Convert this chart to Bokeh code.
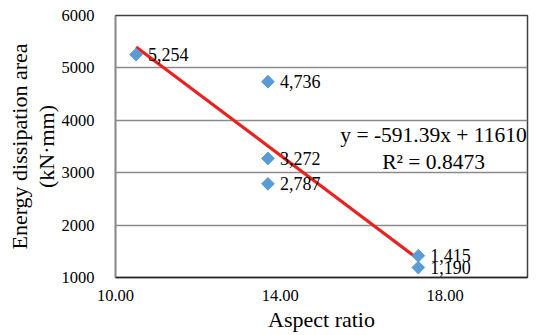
import math
from bokeh.plotting import figure
from bokeh.models import FixedTicker, PrintfTickFormatter, Range1d, Label, ColumnDataSource, Title
from bokeh.core.properties import value
from bokeh.embed import file_html
from bokeh.resources import INLINE

# Data
aspect_ratio = [10.5, 13.7, 13.7, 13.7, 17.35, 17.35]
energy_area = [5254, 4736, 3272, 2787, 1415, 1190]
point_labels = [f"{v:,}" for v in energy_area]
x_ticks = [10, 14, 18]
y_ticks = [1000, 2000, 3000, 4000, 5000, 6000]
trend_slope = -591.39
trend_intercept = 11610
equation_text = "y = -591.39x + 11610"
r2_text = "R² = 0.8473"
y_title_lines = ["Energy dissipation area", "(kN·mm)"]

FONT = "Liberation Serif"

p = figure(width=538, height=335, output_backend="svg", toolbar_location=None,
           x_range=Range1d(10, 20), y_range=Range1d(1000, 6000),
           min_border_left=115, min_border_right=11, min_border_top=15, min_border_bottom=58)
p.background_fill_color = "white"
p.border_fill_color = "white"
p.outline_line_color = "#404040"
p.outline_line_width = 1.5

p.xgrid.grid_line_color = None
p.ygrid.grid_line_color = "#8a8a8a"
p.ygrid.grid_line_width = 1.3

p.xaxis.ticker = FixedTicker(ticks=x_ticks)
p.yaxis.ticker = FixedTicker(ticks=y_ticks)
p.xaxis.formatter = PrintfTickFormatter(format="%.2f")
p.yaxis.formatter = PrintfTickFormatter(format="%d")

for ax in (p.xaxis[0], p.yaxis[0]):
    ax.major_tick_line_color = None
    ax.minor_tick_line_color = None
    ax.major_label_text_font = FONT
    ax.major_label_text_font_size = "16.5px"
    ax.major_label_text_color = "black"
    ax.axis_label_text_font = FONT
    ax.axis_label_text_font_size = "22px"
    ax.axis_label_text_font_style = "normal"
    ax.axis_label_text_color = "black"

p.xaxis.axis_line_color = "#262626"
p.xaxis.axis_line_width = 1.5
p.yaxis.axis_line_color = "#8a8a8a"
p.yaxis.axis_line_width = 1.5
p.xaxis.major_label_standoff = 6
p.yaxis.major_label_standoff = 15
p.xaxis.axis_label = "Aspect ratio"
p.xaxis.axis_label_standoff = 3

# y axis title as two stacked side titles (inner line first)
for txt in reversed(y_title_lines):
    p.add_layout(Title(text=txt, align="center", text_font=FONT, text_font_size="22px",
                       text_font_style="normal", text_color="black", standoff=0), "left")

src = ColumnDataSource(dict(x=aspect_ratio, y=energy_area, lab=point_labels))

# trendline over data range
x0, x1 = min(aspect_ratio), max(aspect_ratio)
p.line([x0, x1], [trend_slope * x0 + trend_intercept, trend_slope * x1 + trend_intercept],
       line_color="#E8231F", line_width=3.2)

p.scatter("x", "y", source=src, marker="square", angle=math.pi / 4, size=9,
          fill_color="#5B9BD5", line_color="#5B9BD5")

p.text("x", "y", text="lab", source=src, x_offset=12, text_baseline="middle",
       text_align="left", text_font=value(FONT), text_font_size="18px", text_color="black")

p.add_layout(Label(x=17.72, y=3710, text=equation_text, text_align="center",
                   text_baseline="middle", text_font=FONT, text_font_size="21.5px",
                   text_color="black"))
p.add_layout(Label(x=17.72, y=3210, text=r2_text, text_align="center",
                   text_baseline="middle", text_font=FONT, text_font_size="21.5px",
                   text_color="black"))

open("out.html", "w").write(file_html(p, INLINE))
